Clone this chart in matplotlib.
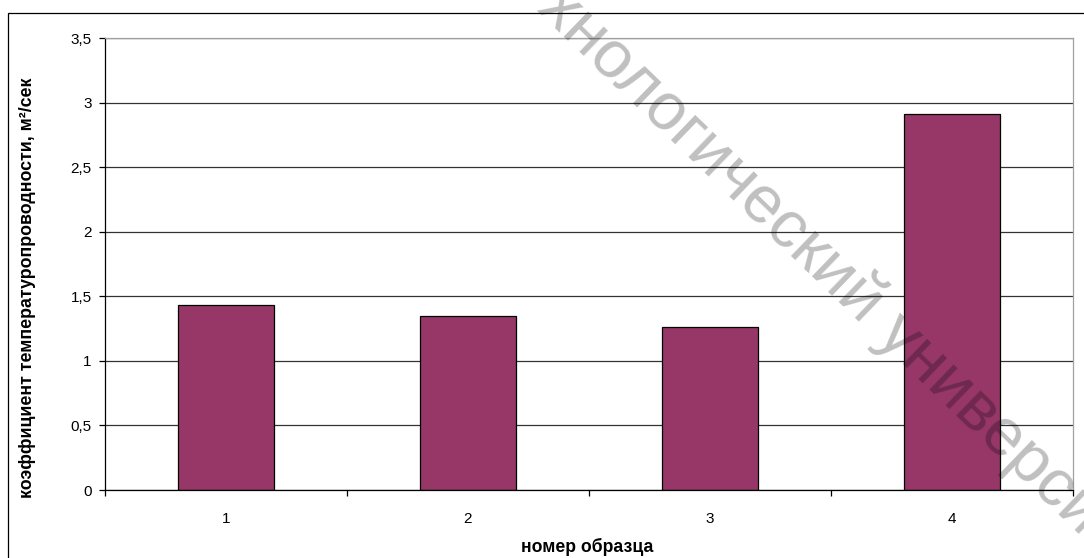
import matplotlib
matplotlib.use("Agg")
import matplotlib.pyplot as plt
from matplotlib.patches import Rectangle

# values
samples = [1, 2, 3, 4]
sample_labels = ["1", "2", "3", "4"]
diffusivity = [1.43, 1.35, 1.26, 2.91]
y_ticks = [0, 0.5, 1, 1.5, 2, 2.5, 3, 3.5]
y_tick_labels = ["0", "0,5", "1", "1,5", "2", "2,5", "3", "3,5"]

W, H = 1084, 558
BAR_COLOR = "#963768"

plt.rcParams["font.family"] = ["Liberation Sans", "DejaVu Sans"]

fig = plt.figure(figsize=(W / 100, H / 100), dpi=100)
ax = fig.add_axes([105 / W, 1 - 490 / H, (1073 - 105) / W, (490 - 38) / H])

ax.bar(samples, diffusivity, width=0.4, color=BAR_COLOR, edgecolor="black",
       linewidth=0.9, zorder=3)

ax.set_xlim(0.5, 4.5)
ax.set_ylim(0, 3.5)
ax.set_yticks(y_ticks)
ax.set_yticklabels(y_tick_labels, fontsize=11)
ax.yaxis.grid(True, color="#333333", linewidth=0.9, zorder=1)
ax.tick_params(axis="y", direction="out", length=4.5, width=0.9, pad=5, colors="black")

ax.set_xticks(samples)
ax.set_xticklabels(sample_labels, fontsize=11)
ax.set_xticks([s + 0.5 for s in [0] + samples], minor=True)
ax.tick_params(axis="x", which="major", length=0, pad=16)
ax.tick_params(axis="x", which="minor", direction="out", length=4.5, width=0.9)

for side in ["top", "right"]:
    ax.spines[side].set_color("#a0a0a0")
    ax.spines[side].set_linewidth(0.9)
for side in ["left", "bottom"]:
    ax.spines[side].set_color("black")
    ax.spines[side].set_linewidth(0.9)
ax.spines["bottom"].set_zorder(4)

fig.text(587 / W, 1 - 547 / H, "номер образца", ha="center", va="center",
         fontsize=12.7, fontweight="bold")
fig.text(28 / W, 1 - 288 / H, "коэффициент температуропроводности, м²/сек",
         ha="center", va="center", rotation=90, fontsize=12.8, fontweight="bold")

# outer chart frame (runs past the right and bottom edges)
fig.patches.append(Rectangle((8 / W, -0.1), 1.2, 1 - 13 / H + 0.1,
                             transform=fig.transFigure, fill=False,
                             edgecolor="black", linewidth=0.9))

# watermark
fig.text(548 / W, 1 + 3 / H, "хнологический университет", rotation=-44,
         rotation_mode="anchor", ha="left", va="center", fontsize=48,
         color="black", alpha=0.25, zorder=10)

fig.savefig("out.png", dpi=100)
